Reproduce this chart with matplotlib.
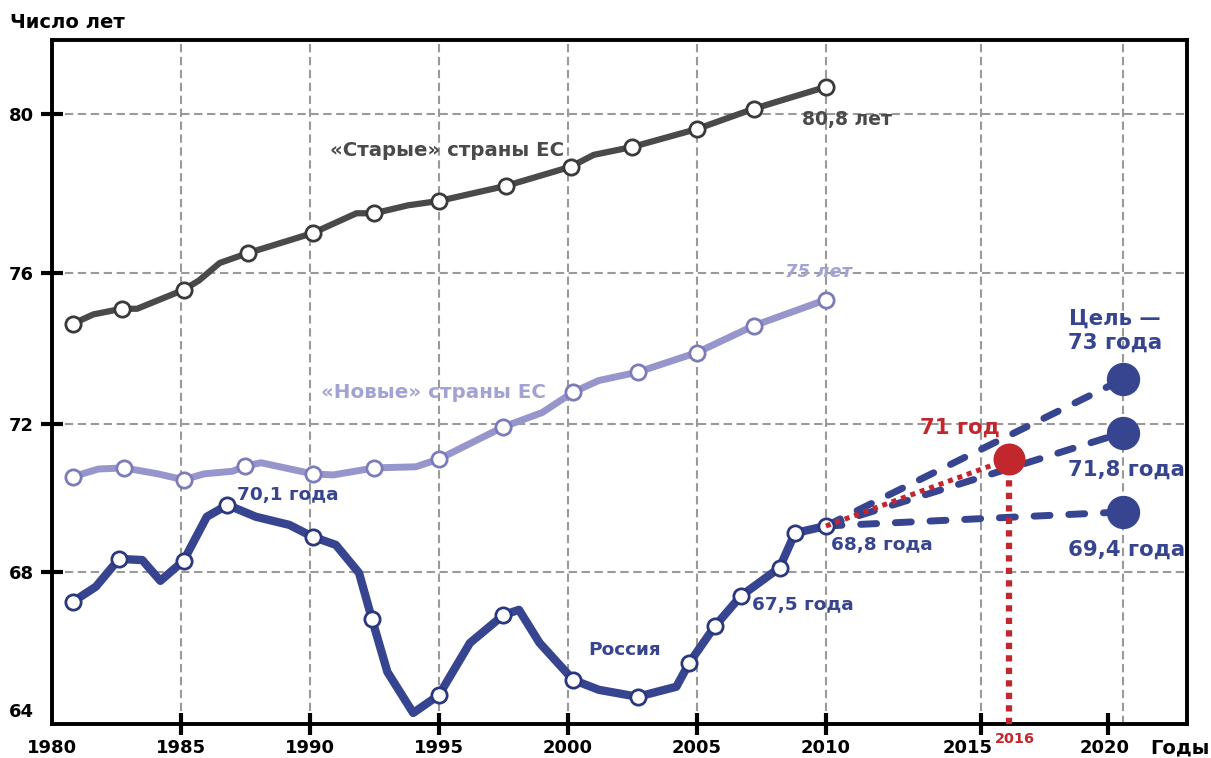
import numpy as np
import matplotlib
matplotlib.use("Agg")
import matplotlib.pyplot as plt
from matplotlib.ticker import FixedLocator
from matplotlib.transforms import blended_transform_factory, ScaledTranslation

# ---------------- data ----------------
old_years = [1980.8, 1981.6, 1982.7, 1983.3, 1985.1, 1985.7, 1986.5, 1987.6, 1990.1,
             1991.8, 1992.5, 1993.8, 1995.0, 1997.6, 2000.1, 2001.0, 2002.5, 2005.0,
             2007.2, 2010.0]
old_values = [74.65, 74.90, 75.05, 75.05, 75.55, 75.80, 76.25, 76.50, 77.00,
              77.50, 77.50, 77.70, 77.81, 78.19, 78.67, 78.97, 79.17, 79.62,
              80.13, 80.68]
old_marked = [True, False, True, False, True, False, False, True, True,
              False, True, False, True, True, True, False, True, True,
              True, True]

new_years = [1980.8, 1981.8, 1982.8, 1984.1, 1985.1, 1985.9, 1987.0, 1987.5, 1988.1,
             1990.1, 1990.9, 1992.5, 1994.1, 1995.0, 1997.5, 1999.0, 2000.2, 2001.2,
             2002.7, 2005.0, 2007.2, 2010.0]
new_values = [70.57, 70.78, 70.81, 70.65, 70.49, 70.65, 70.72, 70.86, 70.95,
              70.65, 70.62, 70.81, 70.84, 71.05, 71.92, 72.30, 72.84, 73.15,
              73.37, 73.89, 74.60, 75.29]
new_marked = [True, False, True, False, True, False, False, True, False,
              True, False, True, False, True, True, False, True, False,
              True, True, True, True]

rus_years = [1980.8, 1981.7, 1982.6, 1983.5, 1984.2, 1985.1, 1986.0, 1986.8, 1987.9,
             1989.2, 1990.1, 1991.0, 1991.9, 1992.4, 1993.0, 1994.0, 1995.0, 1996.2,
             1997.5, 1998.1, 1998.9, 2000.2, 2001.2, 2002.7, 2004.2, 2004.7, 2005.7,
             2006.7, 2008.2, 2008.8, 2010.0]
rus_values = [67.13, 67.57, 68.35, 68.32, 67.74, 68.30, 69.49, 69.81, 69.49,
              69.27, 68.95, 68.73, 67.97, 66.64, 65.10, 63.91, 64.43, 65.94,
              66.75, 66.90, 65.94, 64.87, 64.58, 64.38, 64.67, 65.36, 66.43,
              67.30, 68.11, 69.05, 69.24]
rus_marked = [True, False, True, False, False, True, False, True, False,
              False, True, False, False, True, False, False, True, False,
              True, False, False, True, False, True, False, True, True,
              True, True, True, True]

proj_start_year = 2010
proj_start_value = 69.24
target_year = 2020
target_values = [73.18, 71.76, 69.62]
red_year = 2016
red_value = 71.05

xtick_years = [1980, 1985, 1990, 1995, 2000, 2005, 2010, 2015, 2019.5]
xtick_labels = ["1980", "1985", "1990", "1995", "2000", "2005", "2010", "2015", "2020"]
xgrid_years = [1985, 1990, 1995, 2000, 2005, 2010, 2015, 2020]
ytick_values = [64, 68, 72, 76, 80]
ygrid_values = [68, 72, 76, 80]

# ---------------- colours ----------------
C_OLD = "#4a4a4a"
C_OLD_EDGE = "#3a3a3a"
C_NEW = "#9696cc"
C_NEW_EDGE = "#7c7cb8"
C_NEW_TXT = "#a3a3d3"
C_RUS = "#374591"
C_RUS_EDGE = "#2b377f"
C_RED = "#c1272d"

plt.rcParams["font.family"] = ["DejaVu Sans"]
plt.rcParams["font.weight"] = "bold"

# ---------------- scales (the original axes are not uniform) ----------------
x_knots_year = [1970, 2010, 2015, 2035]
x_knots_pos = [1970, 2010, 2016, 2038]


def xf(v):
    return np.interp(v, x_knots_year, x_knots_pos)


def xi(p):
    return np.interp(p, x_knots_pos, x_knots_year)


y_knots_val = [56, 64, 68, 72, 76, 80, 88]
y_knots_pos = [-986, -710, -572, -424, -273, -114, 204]


def yf(v):
    return np.interp(v, y_knots_val, y_knots_pos)


def yi(p):
    return np.interp(p, y_knots_pos, y_knots_val)


fig = plt.figure(figsize=(12.11, 7.58), dpi=100)
ax = fig.add_axes([0.04294, 0.04485, 0.9373, 0.9024])
ax.set_xscale("function", functions=(xf, xi))
ax.set_yscale("function", functions=(yf, yi))
ax.set_xlim(1980, 2022.27)
ax.set_ylim(63.59, 81.86)

# ticks
ax.xaxis.set_major_locator(FixedLocator(xtick_years))
ax.set_xticklabels(xtick_labels)
ax.yaxis.set_major_locator(FixedLocator(ytick_values))
ax.set_yticklabels([str(v) for v in ytick_values])
ax.xaxis.set_minor_locator(FixedLocator([]))
ax.yaxis.set_minor_locator(FixedLocator([]))
ax.grid(False)
ax.set_axisbelow(True)

# reference grid (its vertical lines do not all sit on the tick marks)
grid_kw = dict(color="#9a9a9a", linewidth=1.5, linestyle=(0, (4, 2.2)), zorder=0.3)
for gx in xgrid_years:
    ax.axvline(gx, **grid_kw)
for gy in ygrid_values:
    ax.axhline(gy, **grid_kw)

ax.tick_params(which="major", direction="inout", length=16, width=3, color="black",
               labelsize=13, labelcolor="black")
ax.tick_params(axis="y", pad=5)
ax.tick_params(axis="x", pad=3)
ax.xaxis.get_major_ticks()[0].tick1line.set_visible(False)
ax.yaxis.get_major_ticks()[0].tick1line.set_visible(False)
for lab in ax.get_xticklabels() + ax.get_yticklabels():
    lab.set_fontweight("bold")
# the original places "2015" a little left of its tick mark
lab2015 = ax.get_xticklabels()[7]
lab2015.set_transform(lab2015.get_transform() + ScaledTranslation(-0.13, 0, fig.dpi_scale_trans))
lab2020 = ax.get_xticklabels()[8]
lab2020.set_transform(lab2020.get_transform() + ScaledTranslation(-0.04, 0, fig.dpi_scale_trans))
for sp in ax.spines.values():
    sp.set_linewidth(2.8)
    sp.set_color("black")

# ---------------- series ----------------
ax.plot(old_years, old_values, color=C_OLD, lw=4.5, solid_joinstyle="round",
        marker="o", markevery=old_marked, ms=11, mfc="white", mec=C_OLD_EDGE, mew=2, zorder=3)
ax.plot(new_years, new_values, color=C_NEW, lw=5, solid_joinstyle="round",
        marker="o", markevery=new_marked, ms=11, mfc="white", mec=C_NEW_EDGE, mew=2, zorder=3)
ax.plot(rus_years, rus_values, color=C_RUS, lw=6, solid_joinstyle="round",
        marker="o", markevery=rus_marked, ms=11, mfc="white", mec=C_RUS_EDGE, mew=2, zorder=4)

# projections
for tv in target_values:
    ax.plot([proj_start_year, target_year], [proj_start_value, tv], color=C_RUS, lw=5,
            linestyle=(0, (2.3, 2.7)), dash_capstyle="round", zorder=3)
    ax.plot([target_year], [tv], "o", color=C_RUS, ms=23, zorder=5)

ax.plot([proj_start_year, red_year], [proj_start_value, red_value], color=C_RED, lw=3.6,
        linestyle=(0, (1, 1)), zorder=4)
ax.plot([red_year, red_year], [ax.get_ylim()[0], red_value], color=C_RED, lw=4.5,
        linestyle=(0, (1, 1)), zorder=4, clip_on=False)
ax.plot([red_year], [red_value], "o", color=C_RED, ms=22, zorder=6)

# ---------------- texts ----------------
ax.text(1995.3, 79.09, "«Старые» страны ЕС", color=C_OLD, fontsize=14.2,
        ha="center", va="center")
ax.text(2009.07, 79.85, "80,8 лет", color=C_OLD, fontsize=13.5, ha="left", va="center")
ax.text(2009.7, 76.03, "75 лет", color=C_NEW_TXT, fontsize=13, ha="center", va="center",
        style="italic")
ax.text(1994.77, 72.84, "«Новые» страны ЕС", color=C_NEW_TXT, fontsize=14.3,
        ha="center", va="center")
ax.text(1987.17, 70.08, "70,1 года", color=C_RUS, fontsize=13.3, ha="left", va="center")
ax.text(2002.2, 65.74, "Россия", color=C_RUS, fontsize=13.3, ha="center", va="center")
ax.text(2007.13, 67.04, "67,5 года", color=C_RUS, fontsize=13.3, ha="left", va="center")
ax.text(2010.16, 68.73, "68,8 года", color=C_RUS, fontsize=13.3, ha="left", va="center")
ax.text(2019.73, 74.46, "Цель —\n73 года", color=C_RUS, fontsize=15.3, ha="center",
        va="center", linespacing=1.25)
ax.text(2018.07, 70.76, "71,8 года", color=C_RUS, fontsize=15.3, ha="left", va="center")
ax.text(2018.07, 68.59, "69,4 года", color=C_RUS, fontsize=15.3, ha="left", va="center")
ax.text(2014.33, 71.89, "71 год", color=C_RED, fontsize=15.3, ha="center", va="center")

trans = blended_transform_factory(ax.transData, ax.transAxes)
ax.text(red_year + 0.2, -0.022, "2016", color=C_RED, fontsize=10.4, ha="center",
        va="center", transform=trans)

fig.text(10 / 1211, 1 - 22 / 758, "Число лет", fontsize=14, ha="left", va="center",
         color="black")
fig.text(1150 / 1211, 1 - 748 / 758, "Годы", fontsize=14, ha="left", va="center",
         color="black")

fig.savefig("out.png", dpi=100)
